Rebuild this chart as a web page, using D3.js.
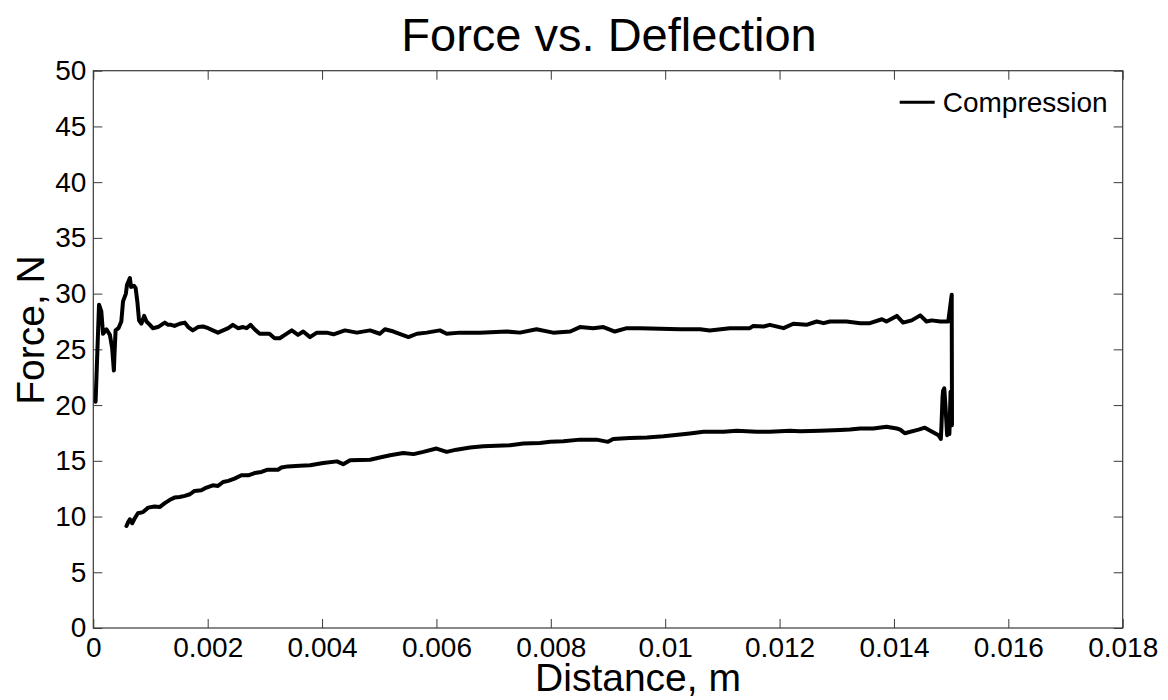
<!DOCTYPE html>
<html>
<head>
<meta charset="utf-8">
<script src="https://cdn.jsdelivr.net/npm/d3@7"></script>
<style>
  body { margin: 0; background: #fff; }
  svg text { font-family: "Liberation Sans", Arial, Helvetica, sans-serif; fill: #000; }
</style>
</head>
<body>
<svg id="chart" width="1168" height="700"></svg>
<script>
// Load path: loading branch (upper), spike at end of stroke, then unloading branch (lower, right to left)
const distance = [
  0.00004, 0.00010, 0.00014, 0.00017, 0.00023, 0.00029, 0.00033, 0.00036, 0.00037, 0.00039,
  0.00044, 0.00049, 0.00052, 0.00057, 0.00059, 0.00064, 0.00066, 0.00071, 0.00074, 0.00077,
  0.00080, 0.00084, 0.00089, 0.00093, 0.00099, 0.00104, 0.00113, 0.00119, 0.00125, 0.00131,
  0.00136, 0.00142, 0.00151, 0.00160, 0.00166, 0.00174, 0.00183, 0.00192, 0.00201, 0.00209,
  0.00218, 0.00227, 0.00236, 0.00244, 0.00253, 0.00262, 0.00268, 0.00275, 0.00282, 0.00291,
  0.00300, 0.00308, 0.00317, 0.00326, 0.00335, 0.00347, 0.00358, 0.00367, 0.00379, 0.00391,
  0.00408, 0.00420, 0.00440, 0.00461, 0.00484, 0.00501, 0.00510, 0.00525, 0.00551, 0.00566,
  0.00583, 0.00606, 0.00618, 0.00641, 0.00676, 0.00723, 0.00746, 0.00775, 0.00804, 0.00834,
  0.00851, 0.00874, 0.00892, 0.00912, 0.00933, 0.00956, 0.00991, 0.01026, 0.01061, 0.01078,
  0.01113, 0.01148, 0.01154, 0.01172, 0.01183, 0.01207, 0.01224, 0.01247, 0.01265, 0.01277,
  0.01288, 0.01317, 0.01341, 0.01358, 0.01379, 0.01387, 0.01405, 0.01416, 0.01431, 0.01446,
  0.01457, 0.01466, 0.01481, 0.01495, 0.01501,
  0.015015, 0.01499, 0.01497, 0.01495, 0.01493, 0.01490, 0.01488, 0.01486, 0.01485, 0.01483,
  0.01482, 0.01478,
  0.01454, 0.01443, 0.01419, 0.01411, 0.01405, 0.01387, 0.01364, 0.01341, 0.01323, 0.01306,
  0.01271, 0.01236, 0.01218, 0.01183, 0.01160, 0.01125, 0.01102, 0.01067, 0.01043, 0.01014,
  0.00997, 0.00968, 0.00938, 0.00909, 0.00900, 0.00880, 0.00851, 0.00822, 0.00799, 0.00781,
  0.00752, 0.00729, 0.00705, 0.00682, 0.00659, 0.00635, 0.00618, 0.00600, 0.00577, 0.00560,
  0.00542, 0.00519, 0.00501, 0.00484, 0.00449, 0.00437, 0.00426, 0.00402, 0.00379, 0.00361,
  0.00340, 0.00329, 0.00323, 0.00305, 0.00294, 0.00282, 0.00271, 0.00259, 0.00247, 0.00236,
  0.00227, 0.00218, 0.00209, 0.00198, 0.00189, 0.00177, 0.00169, 0.00160, 0.00151, 0.00142,
  0.00134, 0.00125, 0.00116, 0.00107, 0.00096, 0.00087, 0.00078, 0.00072, 0.00068, 0.00064,
  0.00061, 0.00058
];

const force = [
  20.3, 29.0, 28.4, 26.4, 26.8, 26.3, 25.1, 23.1, 24.5, 26.7,
  26.9, 27.5, 29.3, 30.0, 30.8, 31.4, 30.6, 30.7, 30.5, 29.3,
  27.6, 27.3, 28.0, 27.5, 27.2, 26.9, 27.0, 27.2, 27.4, 27.2,
  27.2, 27.1, 27.3, 27.4, 27.0, 26.7, 27.0, 27.05, 26.9, 26.7,
  26.5, 26.7, 26.9, 27.2, 26.9, 27.0, 26.9, 27.2, 26.8, 26.4,
  26.4, 26.4, 26.0, 26.0, 26.3, 26.7, 26.3, 26.6, 26.1, 26.5,
  26.5, 26.35, 26.7, 26.5, 26.7, 26.4, 26.8, 26.6, 26.1, 26.4,
  26.5, 26.7, 26.4, 26.5, 26.5, 26.6, 26.5, 26.8, 26.5, 26.6,
  27.0, 26.9, 27.0, 26.6, 26.9, 26.9, 26.85, 26.8, 26.8, 26.7,
  26.9, 26.9, 27.1, 27.05, 27.2, 26.9, 27.3, 27.2, 27.5, 27.35,
  27.5, 27.5, 27.35, 27.35, 27.7, 27.5, 28.0, 27.4, 27.6, 28.05,
  27.5, 27.6, 27.5, 27.5, 29.9,
  18.2, 21.2, 17.4, 17.8, 17.3, 20.0, 21.5, 21.3, 20.75, 18.0,
  16.96, 17.3,
  17.97, 17.8, 17.47, 17.8, 17.9, 18.06, 17.9, 17.9, 17.8, 17.76,
  17.7, 17.65, 17.7, 17.6, 17.6, 17.7, 17.6, 17.6, 17.45, 17.3,
  17.2, 17.1, 17.05, 16.95, 16.7, 16.9, 16.9, 16.75, 16.7, 16.6,
  16.55, 16.4, 16.35, 16.3, 16.2, 16.0, 15.8, 16.1, 15.8, 15.6,
  15.7, 15.5, 15.3, 15.1, 15.05, 14.7, 14.95, 14.8, 14.6, 14.55,
  14.5, 14.4, 14.2, 14.2, 14.0, 13.9, 13.7, 13.7, 13.4, 13.2,
  13.1, 12.75, 12.8, 12.6, 12.35, 12.3, 12.0, 11.85, 11.75, 11.7,
  11.5, 11.2, 10.85, 10.9, 10.8, 10.4, 10.3, 9.8, 9.4, 9.75,
  9.5, 9.15
];

const xTicks = [0, 0.002, 0.004, 0.006, 0.008, 0.01, 0.012, 0.014, 0.016, 0.018];
const xTickLabels = ["0", "0.002", "0.004", "0.006", "0.008", "0.01", "0.012", "0.014", "0.016", "0.018"];
const yTicks = [0, 5, 10, 15, 20, 25, 30, 35, 40, 45, 50];
const yTickLabels = ["0", "5", "10", "15", "20", "25", "30", "35", "40", "45", "50"];
const seriesName = "Compression";

const W = 1168, H = 700;
const margin = { top: 70.7, right: 45.3, bottom: 72, left: 93.3 };
const innerW = W - margin.left - margin.right;
const innerH = H - margin.top - margin.bottom;

const svg = d3.select("#chart");
const g = svg.append("g").attr("transform", `translate(${margin.left},${margin.top})`);

const x = d3.scaleLinear().domain([0, 0.018]).range([0, innerW]);
const y = d3.scaleLinear().domain([0, 50]).range([innerH, 0]);

const axisColor = "#3a3a3a";
const tickLen = 9;
const tickFont = 28;

function styleAxis(sel, showLabels) {
  sel.select(".domain").remove();
  sel.selectAll(".tick line").attr("stroke", axisColor).attr("stroke-width", 1);
  sel.selectAll(".tick text")
    .style("font-size", tickFont + "px")
    .attr("fill", "#000")
    .style("display", showLabels ? null : "none");
}

// Bottom axis with labels
g.append("g")
  .attr("transform", `translate(0,${innerH})`)
  .call(d3.axisBottom(x).tickValues(xTicks).tickFormat((d, i) => xTickLabels[i])
        .tickSizeInner(-tickLen).tickSizeOuter(0).tickPadding(9))
  .call(s => styleAxis(s, true));

// Top axis (ticks only)
g.append("g")
  .call(d3.axisTop(x).tickValues(xTicks).tickSizeInner(-tickLen).tickSizeOuter(0))
  .call(s => styleAxis(s, false));

// Left axis with labels
g.append("g")
  .call(d3.axisLeft(y).tickValues(yTicks).tickFormat((d, i) => yTickLabels[i])
        .tickSizeInner(-tickLen).tickSizeOuter(0).tickPadding(7))
  .call(s => styleAxis(s, true));

// Right axis (ticks only)
g.append("g")
  .attr("transform", `translate(${innerW},0)`)
  .call(d3.axisRight(y).tickValues(yTicks).tickSizeInner(-tickLen).tickSizeOuter(0))
  .call(s => styleAxis(s, false));

// Plot box
g.append("rect")
  .attr("x", 0).attr("y", 0)
  .attr("width", innerW).attr("height", innerH)
  .attr("fill", "none")
  .attr("stroke", axisColor)
  .attr("stroke-width", 1.2);

// Force-deflection trace
const pts = distance.map((d, i) => [d, force[i]]);
const line = d3.line().x(d => x(d[0])).y(d => y(d[1]));
g.append("path")
  .datum(pts)
  .attr("d", line)
  .attr("fill", "none")
  .attr("stroke", "#000")
  .attr("stroke-width", 4)
  .attr("stroke-linejoin", "round")
  .attr("stroke-linecap", "round");

// Legend (upper right, inside the box)
const leg = g.append("g").attr("transform", `translate(${innerW - 223},${31.5})`);
leg.append("line")
  .attr("x1", 0).attr("x2", 35)
  .attr("y1", 0).attr("y2", 0)
  .attr("stroke", "#000").attr("stroke-width", 3);
leg.append("text")
  .attr("x", 43).attr("y", 0)
  .attr("dy", "0.36em")
  .style("font-size", "28px")
  .text(seriesName);

// Title and axis labels
svg.append("text")
  .attr("x", 609)
  .attr("y", 51)
  .attr("text-anchor", "middle")
  .style("font-size", "47px")
  .text("Force vs. Deflection");

svg.append("text")
  .attr("x", 638)
  .attr("y", 691)
  .attr("text-anchor", "middle")
  .style("font-size", "39px")
  .text("Distance, m");

svg.append("text")
  .attr("transform", `translate(44,330) rotate(-90)`)
  .attr("text-anchor", "middle")
  .style("font-size", "39px")
  .text("Force, N");
</script>
</body>
</html>
